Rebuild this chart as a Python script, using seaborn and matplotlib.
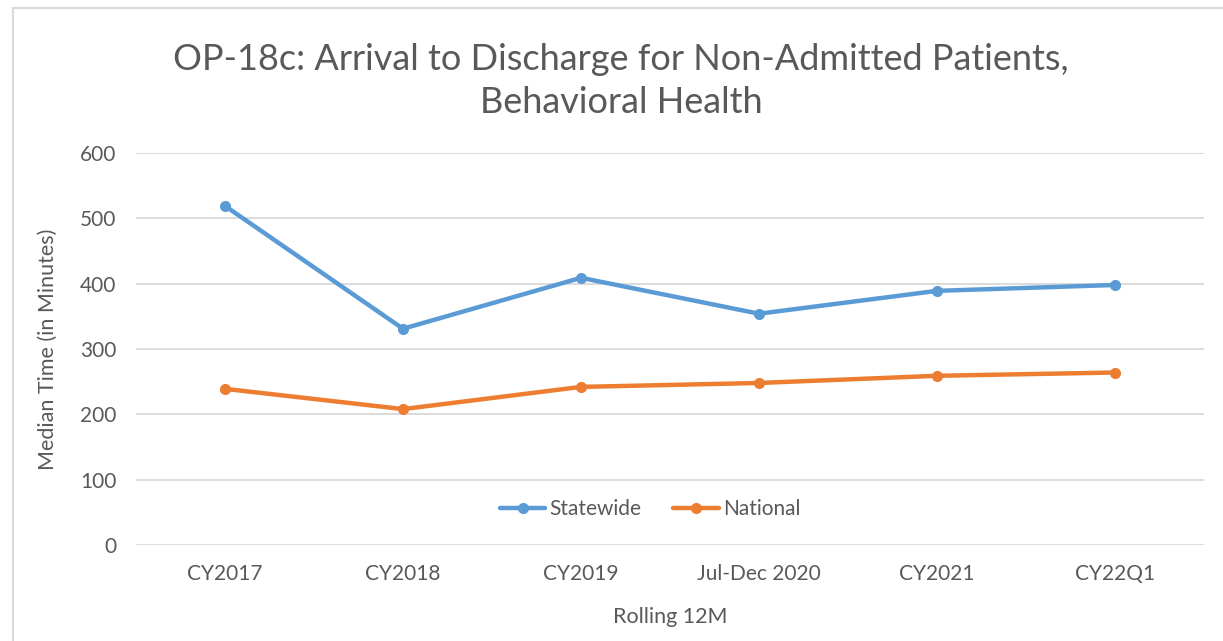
import matplotlib
matplotlib.use("Agg")
import matplotlib.pyplot as plt
import seaborn as sns
import pandas as pd
from matplotlib.patches import Rectangle

categories = ["CY2017", "CY2018", "CY2019", "Jul-Dec 2020", "CY2021", "CY22Q1"]
statewide = [519, 331, 409, 354, 389, 398]
national = [239, 208, 242, 248, 259, 264]
yticks = [0, 100, 200, 300, 400, 500, 600]

df = pd.DataFrame({
    "cat": categories * 2,
    "x": list(range(len(categories))) * 2,
    "value": statewide + national,
    "series": ["Statewide"] * len(categories) + ["National"] * len(categories),
})

sns.set_theme(style="white")
plt.rcParams["font.family"] = ["Lato", "DejaVu Sans"]
txt = "#595959"

W, H = 1223, 641
fig = plt.figure(figsize=(W / 100, H / 100), dpi=100)
ax = fig.add_axes([136 / W, 1 - 545 / H, (1204 - 136) / W, (545 - 153) / H])

palette = {"Statewide": "#5B9BD5", "National": "#ED7D31"}
sns.lineplot(data=df, x="x", y="value", hue="series", palette=palette, ax=ax,
             marker="o", markersize=8, markeredgewidth=0, linewidth=3.2, sort=False)

ax.set_xlim(-0.5, len(categories) - 0.5)
ax.set_ylim(0, 600)
ax.set_yticks(yticks)
ax.set_xticks(range(len(categories)))
ax.set_xticklabels(categories)
ax.grid(axis="y", color="#D9D9D9", linewidth=1.3)
ax.grid(axis="x", visible=False)
ax.set_axisbelow(True)
for s in ax.spines.values():
    s.set_visible(False)
ax.tick_params(axis="both", length=0, labelsize=15, colors=txt)
ax.tick_params(axis="y", pad=14)
ax.tick_params(axis="x", pad=14)
ax.set_xlabel("Rolling 12M", fontsize=15.5, color=txt, labelpad=16)
ax.set_ylabel("Median Time (in Minutes)", fontsize=15.5, color=txt, labelpad=16)

leg = ax.legend(loc="center", bbox_to_anchor=((650 - 136) / (1204 - 136), (545 - 509) / (545 - 153)),
                ncol=2, frameon=False, fontsize=15, handlelength=2.2, handletextpad=0.2,
                columnspacing=1.5)
for t in leg.get_texts():
    t.set_color(txt)

fig.text(621 / W, 1 - 81 / H, "OP-18c: Arrival to Discharge for Non-Admitted Patients,\nBehavioral Health",
         ha="center", va="center", fontsize=26, color=txt, linespacing=1.4)

fig.patches.append(Rectangle((13 / W, -0.1), 1.2, 1 - 8 / H + 0.1, transform=fig.transFigure,
                             fill=False, edgecolor="#D9D9D9", linewidth=1.5))

fig.savefig("out.png", dpi=100, facecolor="white")
